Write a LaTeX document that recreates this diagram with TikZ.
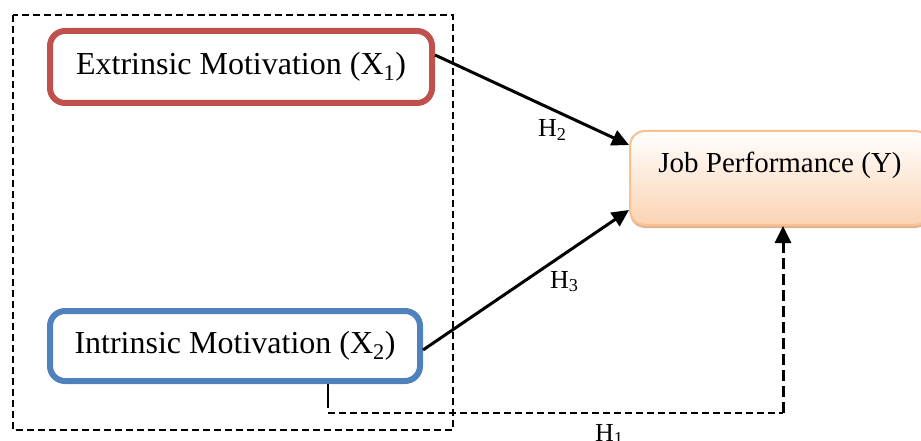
\documentclass[tikz,border=0pt]{standalone}
\usepackage{fontspec}
\setmainfont{Liberation Serif}
\usetikzlibrary{arrows.meta,shadows}
\definecolor{xred}{HTML}{C0504D}
\definecolor{xblue}{HTML}{4F81BD}
\definecolor{yborder}{HTML}{FAC090}
\definecolor{yfill}{HTML}{FBD3B2}
\definecolor{yshadow}{HTML}{D9A07A}
\tikzset{
  varbox/.style={draw, line width=6pt, rounded corners=15pt, fill=white, inner sep=0pt,
    font=\fontsize{32}{36}\selectfont},
  depbox/.style={draw=yborder, line width=2pt, rounded corners=15pt, top color=white, bottom color=yfill,
    inner sep=0pt, font=\fontsize{29}{33}\selectfont, text height=20pt, text depth=31pt,
    drop shadow={fill=yshadow, opacity=0.8, shadow xshift=0pt, shadow yshift=-3pt}},
  hlabel/.style={font=\fontsize{26}{30}\selectfont, inner sep=0pt, anchor=base west},
  link/.style={line width=3pt, -{Triangle[length=17pt,width=16pt]}},
  groupbox/.style={line width=1.8pt, dash pattern=on 7pt off 4pt},
  weakdash/.style={line width=2.2pt, dash pattern=on 7pt off 4pt},
  longdash/.style={line width=3pt, dash pattern=on 11pt off 5pt, -{Triangle[length=17pt,width=16pt]}}
}
\begin{document}
\begin{tikzpicture}[x=1pt,y=-1pt]
\useasboundingbox (0,0) rectangle (921,441);
\clip (0,0) rectangle (921,441);
\fill[white] (0,0) rectangle (921,441);
% group box
\draw[groupbox] (13,15) rectangle (453,430);
% nodes
\node[varbox, draw=xred, minimum width=382pt, minimum height=72pt] (ext) at (241,67) {Extrinsic Motivation (X\textsubscript{1})};
\node[varbox, draw=xblue, minimum width=370pt, minimum height=70pt] (intr) at (235,346) {Intrinsic Motivation (X\textsubscript{2})};
\node[depbox, minimum width=300pt, minimum height=94pt] (jp) at (780,178) {Job Performance (Y)};
% coordinates
\coordinate (c1) at (328,408);
\coordinate (c2) at (328,413);
\coordinate (c3) at (783,413);
\coordinate (c4) at (783,226);
% connectors
\draw[link] ([yshift=12pt]ext.east) -- ([yshift=33pt]jp.west);
\draw[link] ([yshift=-4pt]intr.east) -- ([yshift=-32pt]jp.west);
\draw[line width=2.2pt] ([xshift=93pt]intr.south) -- (c1);
\draw[weakdash] (c2) -- (c3);
\draw[longdash] (c3) -- (c4);
% labels
\node[hlabel] (h2) at (538,137) {H\textsubscript{2}};
\node[hlabel] (h3) at (550,288) {H\textsubscript{3}};
\node[hlabel] (h1) at (595,441) {H\textsubscript{1}};
\end{tikzpicture}
\end{document}
